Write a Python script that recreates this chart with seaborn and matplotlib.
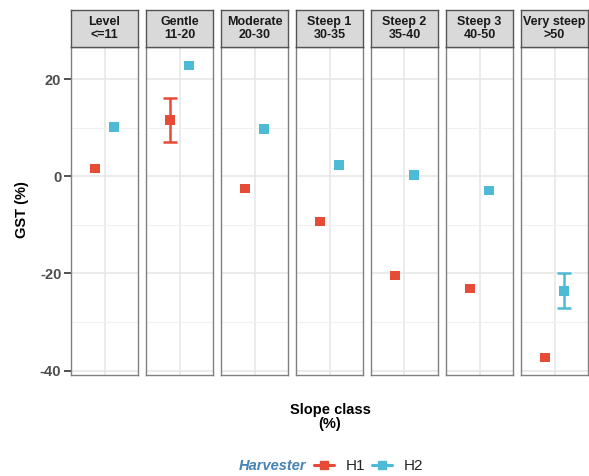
import numpy as np
import pandas as pd
import seaborn as sns
import matplotlib.pyplot as plt
from matplotlib.lines import Line2D

# --- data ---
slope_class = ["Level\n<=11", "Gentle\n11-20", "Moderate\n20-30", "Steep 1\n30-35",
               "Steep 2\n35-40", "Steep 3\n40-50", "Very steep\n>50"]
harvesters = ["H1", "H2"]
h1_gst = [1.6, 11.6, -2.5, -9.3, -20.4, -23.1, -37.3]
h1_err = [0.3, 4.55, 0.3, 0.3, 0.3, 0.3, 0.3]
h2_gst = [10.2, 22.8, 9.8, 2.4, 0.3, -2.9, -23.6]
h2_err = [0.3, 0.3, 0.3, 0.3, 0.3, 0.7, 3.6]

df = pd.DataFrame({
    "slope": slope_class * 2,
    "harvester": ["H1"] * 7 + ["H2"] * 7,
    "gst": h1_gst + h2_gst,
    "err": h1_err + h2_err,
})
pal = {"H1": "#E64B35", "H2": "#4DBBD5"}
dodge = {"H1": -0.17, "H2": 0.17}
df["x"] = df["harvester"].map(dodge)

sns.set_theme(style="white")
plt.rcParams["font.family"] = ["Liberation Sans", "DejaVu Sans"]
plt.rcParams["axes.unicode_minus"] = False

W, H = 589, 476
fig = plt.figure(figsize=(W / 100, H / 100), dpi=100)

left0, pw, gap = 71, 67, 8
top_px, bot_px, strip_top = 46.7, 375, 10.3

axes = []
for i, lab in enumerate(slope_class):
    x0 = left0 + i * (pw + gap)
    ax = fig.add_axes([x0 / W, 1 - bot_px / H, pw / W, (bot_px - top_px) / H],
                      sharey=axes[0] if axes else None)
    axes.append(ax)
    sub = df[df["slope"] == lab]
    ax.set_yticks([20, 0, -20, -40])
    ax.set_yticks([10, -10, -30], minor=True)
    ax.set_xticks([0])
    ax.grid(True, which="major", color="#E6E6E6", lw=1.1)
    ax.grid(True, which="minor", axis="y", color="#F0F0F0", lw=0.8)
    ax.set_axisbelow(True)
    for h in harvesters:
        s = sub[(sub["harvester"] == h) & (sub["err"] > 1)]  # tiny bars hide under the marker
        if len(s):
            ax.errorbar(s["x"], s["gst"], yerr=s["err"], fmt="none", ecolor=pal[h],
                        elinewidth=1.8, capsize=5, capthick=1.8, zorder=3)
    sns.scatterplot(data=sub, x="x", y="gst", hue="harvester", palette=pal,
                    marker="s", s=48, linewidth=0, legend=False, ax=ax, zorder=4)
    ax.set_xlim(-0.6, 0.6)
    ax.set_ylim(-40.9, 26.7)
    ax.set_xlabel("")
    ax.set_ylabel("")
    ax.tick_params(axis="x", length=0, labelbottom=False)
    for sp in ax.spines.values():
        sp.set_color("#808080")
        sp.set_linewidth(1.0)
    if i == 0:
        ax.tick_params(axis="y", which="major", length=5, width=1.2, color="#333333",
                       labelsize=10.5, labelcolor="#4D4D4D", pad=2, left=True)
        ax.tick_params(axis="y", which="minor", length=0)
        for t in ax.get_yticklabels():
            t.set_fontweight("bold")
    else:
        ax.tick_params(axis="y", which="both", length=0, labelleft=False)

    # strip
    sax = fig.add_axes([x0 / W, 1 - top_px / H, pw / W, (top_px - strip_top) / H])
    sax.set_facecolor("#D9D9D9")
    sax.set_xticks([])
    sax.set_yticks([])
    for sp in sax.spines.values():
        sp.set_color("#555555")
        sp.set_linewidth(1.0)
    sax.text(0.5, 0.5, lab, ha="center", va="center", fontsize=9,
             fontweight="bold", color="#1A1A1A", linespacing=1.05,
             transform=sax.transAxes)

fig.text(22 / W, 1 - 210 / H, "GST (%)", rotation=90, ha="center", va="center",
         fontsize=10.5, fontweight="bold", color="black")
fig.text(330 / W, 1 - 417 / H, "Slope class\n(%)", ha="center", va="center",
         fontsize=10.5, fontweight="bold", color="black", linespacing=1.0)

fig.text(306 / W, 1 - 466 / H, "Harvester", ha="right", va="center", fontsize=10.5,
         fontweight="bold", fontstyle="italic", color="#4682B4")
handles = [Line2D([], [], color=pal[h], marker="s", markersize=6, lw=2.2) for h in harvesters]
fig.legend(handles, harvesters, loc="center left", bbox_to_anchor=(314 / W, 1 - 466 / H),
           ncol=2, frameon=False, fontsize=11, handlelength=1.3, handletextpad=0.8,
           columnspacing=0.4, borderaxespad=0, borderpad=0)

fig.savefig("out.png", dpi=100)
